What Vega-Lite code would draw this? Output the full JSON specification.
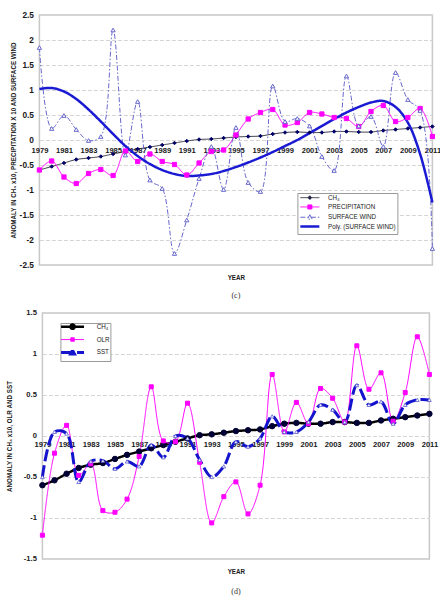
{
  "$schema": "https://vega.github.io/schema/vega-lite/v6.json",
  "background": "white",
  "padding": {"left": 5.4, "top": 9, "right": 2, "bottom": 2},
  "spacing": 6,
  "center": true,
  "resolve": {
    "scale": {"color": "independent", "strokeDash": "independent", "shape": "independent", "stroke": "independent", "fill": "independent"},
    "legend": {"color": "independent", "strokeDash": "independent"}
  },
  "datasets": {
    "c": [
      {"year": 1979, "series": "CH₄", "value": -0.6}, {"year": 1980, "series": "CH₄", "value": -0.53}, {"year": 1981, "series": "CH₄", "value": -0.46},
      {"year": 1982, "series": "CH₄", "value": -0.39}, {"year": 1983, "series": "CH₄", "value": -0.36}, {"year": 1984, "series": "CH₄", "value": -0.33},
      {"year": 1985, "series": "CH₄", "value": -0.28}, {"year": 1986, "series": "CH₄", "value": -0.23}, {"year": 1987, "series": "CH₄", "value": -0.18},
      {"year": 1988, "series": "CH₄", "value": -0.14}, {"year": 1989, "series": "CH₄", "value": -0.1}, {"year": 1990, "series": "CH₄", "value": -0.06},
      {"year": 1991, "series": "CH₄", "value": -0.02}, {"year": 1992, "series": "CH₄", "value": 0.01}, {"year": 1993, "series": "CH₄", "value": 0.02},
      {"year": 1994, "series": "CH₄", "value": 0.04}, {"year": 1995, "series": "CH₄", "value": 0.06}, {"year": 1996, "series": "CH₄", "value": 0.07},
      {"year": 1997, "series": "CH₄", "value": 0.08}, {"year": 1998, "series": "CH₄", "value": 0.12}, {"year": 1999, "series": "CH₄", "value": 0.15},
      {"year": 2000, "series": "CH₄", "value": 0.16}, {"year": 2001, "series": "CH₄", "value": 0.15}, {"year": 2002, "series": "CH₄", "value": 0.15},
      {"year": 2003, "series": "CH₄", "value": 0.17}, {"year": 2004, "series": "CH₄", "value": 0.17}, {"year": 2005, "series": "CH₄", "value": 0.16},
      {"year": 2006, "series": "CH₄", "value": 0.16}, {"year": 2007, "series": "CH₄", "value": 0.19}, {"year": 2008, "series": "CH₄", "value": 0.21},
      {"year": 2009, "series": "CH₄", "value": 0.23}, {"year": 2010, "series": "CH₄", "value": 0.25}, {"year": 2011, "series": "CH₄", "value": 0.27},

      {"year": 1979, "series": "PRECIPITATION", "value": -0.6}, {"year": 1980, "series": "PRECIPITATION", "value": -0.42}, {"year": 1981, "series": "PRECIPITATION", "value": -0.74},
      {"year": 1982, "series": "PRECIPITATION", "value": -0.87}, {"year": 1983, "series": "PRECIPITATION", "value": -0.67}, {"year": 1984, "series": "PRECIPITATION", "value": -0.59},
      {"year": 1985, "series": "PRECIPITATION", "value": -0.71}, {"year": 1986, "series": "PRECIPITATION", "value": -0.22}, {"year": 1987, "series": "PRECIPITATION", "value": -0.43},
      {"year": 1988, "series": "PRECIPITATION", "value": -0.28}, {"year": 1989, "series": "PRECIPITATION", "value": -0.43}, {"year": 1990, "series": "PRECIPITATION", "value": -0.49},
      {"year": 1991, "series": "PRECIPITATION", "value": -0.7}, {"year": 1992, "series": "PRECIPITATION", "value": -0.46}, {"year": 1993, "series": "PRECIPITATION", "value": -0.23},
      {"year": 1994, "series": "PRECIPITATION", "value": -0.2}, {"year": 1995, "series": "PRECIPITATION", "value": 0.1}, {"year": 1996, "series": "PRECIPITATION", "value": 0.42},
      {"year": 1997, "series": "PRECIPITATION", "value": 0.55}, {"year": 1998, "series": "PRECIPITATION", "value": 0.61}, {"year": 1999, "series": "PRECIPITATION", "value": 0.3},
      {"year": 2000, "series": "PRECIPITATION", "value": 0.35}, {"year": 2001, "series": "PRECIPITATION", "value": 0.55}, {"year": 2002, "series": "PRECIPITATION", "value": 0.52},
      {"year": 2003, "series": "PRECIPITATION", "value": 0.45}, {"year": 2004, "series": "PRECIPITATION", "value": 0.43}, {"year": 2005, "series": "PRECIPITATION", "value": 0.27},
      {"year": 2006, "series": "PRECIPITATION", "value": 0.57}, {"year": 2007, "series": "PRECIPITATION", "value": 0.69}, {"year": 2008, "series": "PRECIPITATION", "value": 0.37},
      {"year": 2009, "series": "PRECIPITATION", "value": 0.45}, {"year": 2010, "series": "PRECIPITATION", "value": 0.63}, {"year": 2011, "series": "PRECIPITATION", "value": 0.07},

      {"year": 1979, "series": "SURFACE WIND", "value": 1.85}, {"year": 1980, "series": "SURFACE WIND", "value": 0.23}, {"year": 1981, "series": "SURFACE WIND", "value": 0.49},
      {"year": 1982, "series": "SURFACE WIND", "value": 0.21}, {"year": 1983, "series": "SURFACE WIND", "value": -0.01}, {"year": 1984, "series": "SURFACE WIND", "value": 0.07},
      {"year": 1985, "series": "SURFACE WIND", "value": 2.2}, {"year": 1986, "series": "SURFACE WIND", "value": -0.3}, {"year": 1987, "series": "SURFACE WIND", "value": 0.77},
      {"year": 1988, "series": "SURFACE WIND", "value": -0.8}, {"year": 1989, "series": "SURFACE WIND", "value": -0.97}, {"year": 1990, "series": "SURFACE WIND", "value": -2.27},
      {"year": 1991, "series": "SURFACE WIND", "value": -1.6}, {"year": 1992, "series": "SURFACE WIND", "value": -0.77}, {"year": 1993, "series": "SURFACE WIND", "value": -0.13},
      {"year": 1994, "series": "SURFACE WIND", "value": -0.99}, {"year": 1995, "series": "SURFACE WIND", "value": 0.25}, {"year": 1996, "series": "SURFACE WIND", "value": -0.85},
      {"year": 1997, "series": "SURFACE WIND", "value": -1.03}, {"year": 1998, "series": "SURFACE WIND", "value": 1.08}, {"year": 1999, "series": "SURFACE WIND", "value": 0.37},
      {"year": 2000, "series": "SURFACE WIND", "value": 0.43}, {"year": 2001, "series": "SURFACE WIND", "value": 0.28}, {"year": 2002, "series": "SURFACE WIND", "value": -0.33},
      {"year": 2003, "series": "SURFACE WIND", "value": -0.61}, {"year": 2004, "series": "SURFACE WIND", "value": 1.28}, {"year": 2005, "series": "SURFACE WIND", "value": 0.28},
      {"year": 2006, "series": "SURFACE WIND", "value": 0.47}, {"year": 2007, "series": "SURFACE WIND", "value": -0.13}, {"year": 2008, "series": "SURFACE WIND", "value": 1.35},
      {"year": 2009, "series": "SURFACE WIND", "value": 0.81}, {"year": 2010, "series": "SURFACE WIND", "value": 0.59}, {"year": 2011, "series": "SURFACE WIND", "value": -2.17},

      {"year": 1979, "series": "Poly. (SURFACE WIND)", "value": 1.02}, {"year": 1980, "series": "Poly. (SURFACE WIND)", "value": 1.04}, {"year": 1981, "series": "Poly. (SURFACE WIND)", "value": 0.97},
      {"year": 1982, "series": "Poly. (SURFACE WIND)", "value": 0.82}, {"year": 1983, "series": "Poly. (SURFACE WIND)", "value": 0.61}, {"year": 1984, "series": "Poly. (SURFACE WIND)", "value": 0.37},
      {"year": 1985, "series": "Poly. (SURFACE WIND)", "value": 0.12}, {"year": 1986, "series": "Poly. (SURFACE WIND)", "value": -0.12}, {"year": 1987, "series": "Poly. (SURFACE WIND)", "value": -0.32},
      {"year": 1988, "series": "Poly. (SURFACE WIND)", "value": -0.48}, {"year": 1989, "series": "Poly. (SURFACE WIND)", "value": -0.6}, {"year": 1990, "series": "Poly. (SURFACE WIND)", "value": -0.68},
      {"year": 1991, "series": "Poly. (SURFACE WIND)", "value": -0.72}, {"year": 1992, "series": "Poly. (SURFACE WIND)", "value": -0.71}, {"year": 1993, "series": "Poly. (SURFACE WIND)", "value": -0.68},
      {"year": 1994, "series": "Poly. (SURFACE WIND)", "value": -0.62}, {"year": 1995, "series": "Poly. (SURFACE WIND)", "value": -0.54}, {"year": 1996, "series": "Poly. (SURFACE WIND)", "value": -0.45},
      {"year": 1997, "series": "Poly. (SURFACE WIND)", "value": -0.35}, {"year": 1998, "series": "Poly. (SURFACE WIND)", "value": -0.24}, {"year": 1999, "series": "Poly. (SURFACE WIND)", "value": -0.12},
      {"year": 2000, "series": "Poly. (SURFACE WIND)", "value": 0.0}, {"year": 2001, "series": "Poly. (SURFACE WIND)", "value": 0.14}, {"year": 2002, "series": "Poly. (SURFACE WIND)", "value": 0.28},
      {"year": 2003, "series": "Poly. (SURFACE WIND)", "value": 0.42}, {"year": 2004, "series": "Poly. (SURFACE WIND)", "value": 0.55}, {"year": 2005, "series": "Poly. (SURFACE WIND)", "value": 0.66},
      {"year": 2006, "series": "Poly. (SURFACE WIND)", "value": 0.75}, {"year": 2007, "series": "Poly. (SURFACE WIND)", "value": 0.78}, {"year": 2008, "series": "Poly. (SURFACE WIND)", "value": 0.66},
      {"year": 2009, "series": "Poly. (SURFACE WIND)", "value": 0.35}, {"year": 2010, "series": "Poly. (SURFACE WIND)", "value": -0.28}, {"year": 2011, "series": "Poly. (SURFACE WIND)", "value": -1.25}
    ],
    "d": [
      {"year": 1979, "series": "CH₄", "value": -0.6}, {"year": 1980, "series": "CH₄", "value": -0.54}, {"year": 1981, "series": "CH₄", "value": -0.46},
      {"year": 1982, "series": "CH₄", "value": -0.39}, {"year": 1983, "series": "CH₄", "value": -0.35}, {"year": 1984, "series": "CH₄", "value": -0.33},
      {"year": 1985, "series": "CH₄", "value": -0.28}, {"year": 1986, "series": "CH₄", "value": -0.23}, {"year": 1987, "series": "CH₄", "value": -0.19},
      {"year": 1988, "series": "CH₄", "value": -0.15}, {"year": 1989, "series": "CH₄", "value": -0.11}, {"year": 1990, "series": "CH₄", "value": -0.07},
      {"year": 1991, "series": "CH₄", "value": -0.03}, {"year": 1992, "series": "CH₄", "value": 0.01}, {"year": 1993, "series": "CH₄", "value": 0.02},
      {"year": 1994, "series": "CH₄", "value": 0.04}, {"year": 1995, "series": "CH₄", "value": 0.06}, {"year": 1996, "series": "CH₄", "value": 0.07},
      {"year": 1997, "series": "CH₄", "value": 0.08}, {"year": 1998, "series": "CH₄", "value": 0.12}, {"year": 1999, "series": "CH₄", "value": 0.15},
      {"year": 2000, "series": "CH₄", "value": 0.16}, {"year": 2001, "series": "CH₄", "value": 0.15}, {"year": 2002, "series": "CH₄", "value": 0.15},
      {"year": 2003, "series": "CH₄", "value": 0.17}, {"year": 2004, "series": "CH₄", "value": 0.17}, {"year": 2005, "series": "CH₄", "value": 0.16},
      {"year": 2006, "series": "CH₄", "value": 0.16}, {"year": 2007, "series": "CH₄", "value": 0.19}, {"year": 2008, "series": "CH₄", "value": 0.21},
      {"year": 2009, "series": "CH₄", "value": 0.23}, {"year": 2010, "series": "CH₄", "value": 0.25}, {"year": 2011, "series": "CH₄", "value": 0.27},

      {"year": 1979, "series": "OLR", "value": -1.21}, {"year": 1980, "series": "OLR", "value": -0.21}, {"year": 1981, "series": "OLR", "value": 0.13},
      {"year": 1982, "series": "OLR", "value": -0.48}, {"year": 1983, "series": "OLR", "value": -0.34}, {"year": 1984, "series": "OLR", "value": -0.91},
      {"year": 1985, "series": "OLR", "value": -0.93}, {"year": 1986, "series": "OLR", "value": -0.77}, {"year": 1987, "series": "OLR", "value": -0.25},
      {"year": 1988, "series": "OLR", "value": 0.6}, {"year": 1989, "series": "OLR", "value": -0.06}, {"year": 1990, "series": "OLR", "value": -0.07},
      {"year": 1991, "series": "OLR", "value": 0.4}, {"year": 1992, "series": "OLR", "value": -0.32}, {"year": 1993, "series": "OLR", "value": -1.06},
      {"year": 1994, "series": "OLR", "value": -0.74}, {"year": 1995, "series": "OLR", "value": -0.56}, {"year": 1996, "series": "OLR", "value": -0.95},
      {"year": 1997, "series": "OLR", "value": -0.6}, {"year": 1998, "series": "OLR", "value": 0.75}, {"year": 1999, "series": "OLR", "value": 0.05},
      {"year": 2000, "series": "OLR", "value": 0.41}, {"year": 2001, "series": "OLR", "value": 0.15}, {"year": 2002, "series": "OLR", "value": 0.58},
      {"year": 2003, "series": "OLR", "value": 0.46}, {"year": 2004, "series": "OLR", "value": 0.17}, {"year": 2005, "series": "OLR", "value": 1.1},
      {"year": 2006, "series": "OLR", "value": 0.57}, {"year": 2007, "series": "OLR", "value": 0.77}, {"year": 2008, "series": "OLR", "value": 0.18},
      {"year": 2009, "series": "OLR", "value": 0.53}, {"year": 2010, "series": "OLR", "value": 1.21}, {"year": 2011, "series": "OLR", "value": 0.75},

      {"year": 1979, "series": "SST", "value": -0.5}, {"year": 1980, "series": "SST", "value": 0.05}, {"year": 1981, "series": "SST", "value": 0.03},
      {"year": 1982, "series": "SST", "value": -0.56}, {"year": 1983, "series": "SST", "value": -0.31}, {"year": 1984, "series": "SST", "value": -0.3},
      {"year": 1985, "series": "SST", "value": -0.4}, {"year": 1986, "series": "SST", "value": -0.31}, {"year": 1987, "series": "SST", "value": -0.37},
      {"year": 1988, "series": "SST", "value": -0.11}, {"year": 1989, "series": "SST", "value": -0.26}, {"year": 1990, "series": "SST", "value": 0.0},
      {"year": 1991, "series": "SST", "value": -0.03}, {"year": 1992, "series": "SST", "value": -0.29}, {"year": 1993, "series": "SST", "value": -0.5},
      {"year": 1994, "series": "SST", "value": -0.37}, {"year": 1995, "series": "SST", "value": -0.07}, {"year": 1996, "series": "SST", "value": -0.13},
      {"year": 1997, "series": "SST", "value": -0.03}, {"year": 1998, "series": "SST", "value": 0.24}, {"year": 1999, "series": "SST", "value": 0.05},
      {"year": 2000, "series": "SST", "value": 0.05}, {"year": 2001, "series": "SST", "value": 0.17}, {"year": 2002, "series": "SST", "value": 0.38},
      {"year": 2003, "series": "SST", "value": 0.32}, {"year": 2004, "series": "SST", "value": 0.17}, {"year": 2005, "series": "SST", "value": 0.62},
      {"year": 2006, "series": "SST", "value": 0.38}, {"year": 2007, "series": "SST", "value": 0.42}, {"year": 2008, "series": "SST", "value": 0.15},
      {"year": 2009, "series": "SST", "value": 0.38}, {"year": 2010, "series": "SST", "value": 0.44}, {"year": 2011, "series": "SST", "value": 0.44}
    ]
  },
  "config": {
    "locale": {"number": {"decimal": ".", "thousands": ",", "grouping": [3], "currency": ["$", ""], "minus": "-"}},
    "font": "Liberation Sans",
    "view": {"stroke": "#c8c8c8", "strokeWidth": 1.5},
    "axis": {
      "ticks": false, "tickSize": 0, "domain": false,
      "labelFont": "Liberation Sans", "labelFontWeight": "bold", "labelColor": "#1a1a1a",
      "titleFont": "Liberation Sans", "titleFontWeight": "bold", "titleColor": "#1a1a1a", "titleFontSize": 6.3
    },
    "axisY": {"grid": true, "gridColor": "#d4d4d4", "gridDash": [4, 2], "labelPadding": 6, "format": "~f"},
    "axisX": {"grid": false, "labelFlush": false, "labelOverlap": false, "format": "d", "labelFontSize": 7.6},
    "legend": {"labelFont": "Liberation Sans", "labelFontSize": 6.3, "labelColor": "#222222", "strokeColor": "#9a9a9a", "fillColor": "white"}
  },
  "vconcat": [
    {
      "width": 393,
      "height": 250,
      "title": {"text": "(c)", "orient": "bottom", "font": "Liberation Serif", "fontSize": 8, "fontWeight": "normal", "color": "#333333", "offset": 12},
      "data": {"name": "c"},
      "encoding": {
        "x": {
          "field": "year", "type": "quantitative",
          "scale": {"domain": [1979, 2011], "nice": false, "zero": false},
          "axis": {
            "title": "YEAR", "values": [1979, 1981, 1983, 1985, 1987, 1989, 1991, 1993, 1995, 1997, 1999, 2001, 2003, 2005, 2007, 2009, 2011],
            "offset": -125, "labelPadding": 6, "titleY": 137, "titleBaseline": "middle"
          }
        },
        "y": {
          "field": "value", "type": "quantitative",
          "scale": {"domain": [-2.5, 2.5], "nice": false},
          "axis": {
            "title": "ANOMALY IN CH₄ x10, PRECIPITATION X 10 AND SURFACE WIND",
            "values": [-2.5, -2, -1.5, -1, -0.5, 0, 0.5, 1, 1.5, 2, 2.5],
            "labelFontSize": 8.3, "titlePadding": 3
          }
        }
      },
      "layer": [
        {
          "mark": {"type": "line", "interpolate": "catmull-rom"},
          "encoding": {
            "color": {
              "field": "series", "type": "nominal",
              "scale": {"domain": ["CH₄", "PRECIPITATION", "SURFACE WIND", "Poly. (SURFACE WIND)"], "range": ["#333340", "#ff00ff", "#6666cc", "#1a1ad2"]},
              "legend": {
                "title": null, "orient": "none", "legendX": 258, "legendY": 178, "padding": 1.5,
                "symbolType": "stroke", "symbolSize": 40, "symbolOffset": 7.8, "labelOffset": 15, "rowPadding": 0.3,
                "encode": {
                  "symbols": {
                    "update": {
                      "shape": {"signal": "datum.value === 'PRECIPITATION' ? 'M-3,0H3M-0.65,-0.65H0.65V0.65H-0.65Z' : datum.value === 'SURFACE WIND' ? 'M-3,0H3M0,-0.8L0.72,0.58H-0.72Z' : datum.value === 'Poly. (SURFACE WIND)' ? 'M-3,0H3' : 'M-3,0H3M0,-0.6L0.6,0L0,0.6L-0.6,0Z'"},
                      "fill": {"signal": "datum.value === 'PRECIPITATION' ? '#ff00ff' : datum.value === 'SURFACE WIND' ? '#ffffff' : datum.value === 'CH₄' ? '#000066' : 'transparent'"},
                      "strokeWidth": {"signal": "datum.value === 'Poly. (SURFACE WIND)' ? 2.5 : 1"}
                    }
                  }
                }
              }
            },
            "strokeDash": {
              "field": "series", "type": "nominal",
              "scale": {"domain": ["CH₄", "PRECIPITATION", "SURFACE WIND", "Poly. (SURFACE WIND)"], "range": [[1, 0], [1, 0], [5, 2, 1.5, 2], [1, 0]]},
              "legend": {"title": null, "orient": "none", "legendX": 258, "legendY": 178}
            },
            "strokeWidth": {"condition": {"test": "datum.series === 'Poly. (SURFACE WIND)'", "value": 2.5}, "value": 1}
          }
        },
        {
          "transform": [{"filter": "datum.series !== 'Poly. (SURFACE WIND)'"}],
          "mark": {"type": "point", "filled": false, "opacity": 1, "strokeWidth": 1},
          "encoding": {
            "shape": {"field": "series", "type": "nominal", "scale": {"domain": ["CH₄", "PRECIPITATION", "SURFACE WIND"], "range": ["diamond", "square", "triangle-up"]}, "legend": null},
            "stroke": {"field": "series", "type": "nominal", "scale": {"domain": ["CH₄", "PRECIPITATION", "SURFACE WIND"], "range": ["#000066", "#ff00ff", "#6666cc"]}, "legend": null},
            "fill": {"field": "series", "type": "nominal", "scale": {"domain": ["CH₄", "PRECIPITATION", "SURFACE WIND"], "range": ["#000066", "#ff00ff", "#ffffff"]}, "legend": null},
            "size": {"condition": {"test": "datum.series === 'CH₄'", "value": 12}, "value": 18}
          }
        }
      ]
    },
    {
      "width": 387,
      "height": 246,
      "title": {"text": "(d)", "orient": "bottom", "font": "Liberation Serif", "fontSize": 8, "fontWeight": "normal", "color": "#333333", "offset": 13},
      "data": {"name": "d"},
      "encoding": {
        "x": {
          "field": "year", "type": "quantitative",
          "scale": {"domain": [1979, 2011], "nice": false, "zero": false},
          "axis": {
            "title": "YEAR", "values": [1979, 1981, 1983, 1985, 1987, 1989, 1991, 1993, 1995, 1997, 1999, 2001, 2003, 2005, 2007, 2009, 2011],
            "offset": -123, "labelPadding": 5, "titleY": 135.5, "titleBaseline": "middle"
          }
        },
        "y": {
          "field": "value", "type": "quantitative",
          "scale": {"domain": [-1.5, 1.5], "nice": false},
          "axis": {
            "title": "ANOMALY IN CH₄ x10, OLR AND SST",
            "values": [-1.5, -1, -0.5, 0, 0.5, 1, 1.5],
            "labelFontSize": 7.6, "titlePadding": 10.9
          }
        }
      },
      "layer": [
        {
          "mark": {"type": "line", "interpolate": "catmull-rom"},
          "encoding": {
            "color": {
              "field": "series", "type": "nominal",
              "scale": {"domain": ["CH₄", "OLR", "SST"], "range": ["#000000", "#ff00ff", "#1414cc"]},
              "legend": {
                "title": null, "orient": "none", "legendX": 18, "legendY": 10, "padding": 0.5,
                "symbolType": "stroke", "symbolSize": 50, "symbolOffset": 8.5, "labelOffset": 21, "rowPadding": 0.9,
                "encode": {
                  "symbols": {
                    "update": {
                      "shape": {"signal": "datum.value === 'OLR' ? 'M-3.25,0H3.25M-0.5,-0.5H0.5V0.5H-0.5Z' : datum.value === 'SST' ? 'M-3.25,0H3.25M0,-0.6L0.55,0.45H-0.55Z' : 'M-3.25,0H3.25M0.6,0A0.6,0.6,0,1,1,-0.6,0A0.6,0.6,0,1,1,0.6,0Z'"},
                      "fill": {"signal": "datum.value === 'OLR' ? '#ff00ff' : datum.value === 'SST' ? '#ffffff' : '#000033'"},
                      "strokeWidth": {"signal": "datum.value === 'OLR' ? 1 : datum.value === 'SST' ? 3 : 2.5"}
                    }
                  }
                }
              }
            },
            "strokeDash": {
              "field": "series", "type": "nominal",
              "scale": {"domain": ["CH₄", "OLR", "SST"], "range": [[1, 0], [1, 0], [12, 4]]},
              "legend": {"title": null, "orient": "none", "legendX": 18, "legendY": 10}
            },
            "strokeWidth": {"condition": [{"test": "datum.series === 'OLR'", "value": 1}, {"test": "datum.series === 'SST'", "value": 3}], "value": 2.5}
          }
        },
        {
          "transform": [{"filter": "datum.series !== 'SST'"}],
          "mark": {"type": "point", "filled": false, "opacity": 1, "strokeWidth": 1},
          "encoding": {
            "shape": {"field": "series", "type": "nominal", "scale": {"domain": ["CH₄", "OLR"], "range": ["circle", "square"]}, "legend": null},
            "stroke": {"field": "series", "type": "nominal", "scale": {"domain": ["CH₄", "OLR"], "range": ["#000033", "#ff00ff"]}, "legend": null},
            "fill": {"field": "series", "type": "nominal", "scale": {"domain": ["CH₄", "OLR"], "range": ["#000033", "#ff00ff"]}, "legend": null},
            "size": {"condition": {"test": "datum.series === 'CH₄'", "value": 30}, "value": 16}
          }
        },
        {
          "transform": [{"filter": "datum.series === 'SST'"}],
          "mark": {"type": "point", "shape": "triangle-up", "filled": false, "opacity": 1, "strokeWidth": 0.8, "color": "#5a5ad0", "fill": "#ffffff", "size": 14}
        }
      ]
    }
  ]
}
